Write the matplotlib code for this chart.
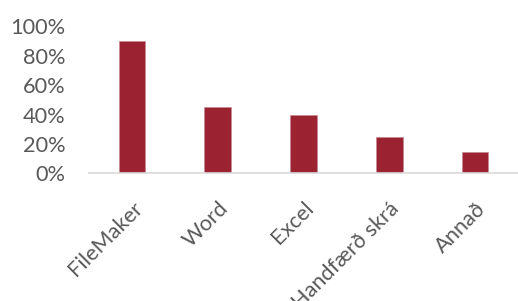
import matplotlib
matplotlib.use('Agg')
import matplotlib.pyplot as plt
import numpy as np
from matplotlib.ticker import PercentFormatter

labels = ['FileMaker', 'Word', 'Excel', 'Handfærð skrá', 'Annað']
values = [0.90, 0.45, 0.40, 0.25, 0.145]

plt.rcParams['font.family'] = ['Lato', 'DejaVu Sans']
grey = '#595959'

fig = plt.figure(figsize=(5.18, 3.01), dpi=100)
ax = fig.add_axes([0.172, 0.424, 0.828, 0.488])

x = np.arange(len(labels))
ax.bar(x, values, 0.31, color='#9B2230', edgecolor='#c98a92', linewidth=0.5)

ax.set_xlim(-0.5, len(labels) - 0.5)
ax.set_ylim(0, 1)
ax.set_yticks(np.arange(0, 1.01, 0.2))
ax.yaxis.set_major_formatter(PercentFormatter(1.0, decimals=0))
ax.tick_params(axis='y', length=0, labelsize=15.7, labelcolor=grey, pad=17)
ax.tick_params(axis='x', length=0, labelsize=15.7, labelcolor=grey, pad=18)
ax.set_xticks(x)
ax.set_xticklabels(labels, rotation=45, ha='right', rotation_mode='anchor')

for s in ['top', 'right', 'left']:
    ax.spines[s].set_visible(False)
ax.spines['bottom'].set_color('#d9d9d9')
ax.spines['bottom'].set_linewidth(1.2)

fig.savefig('out.png', dpi=100)
